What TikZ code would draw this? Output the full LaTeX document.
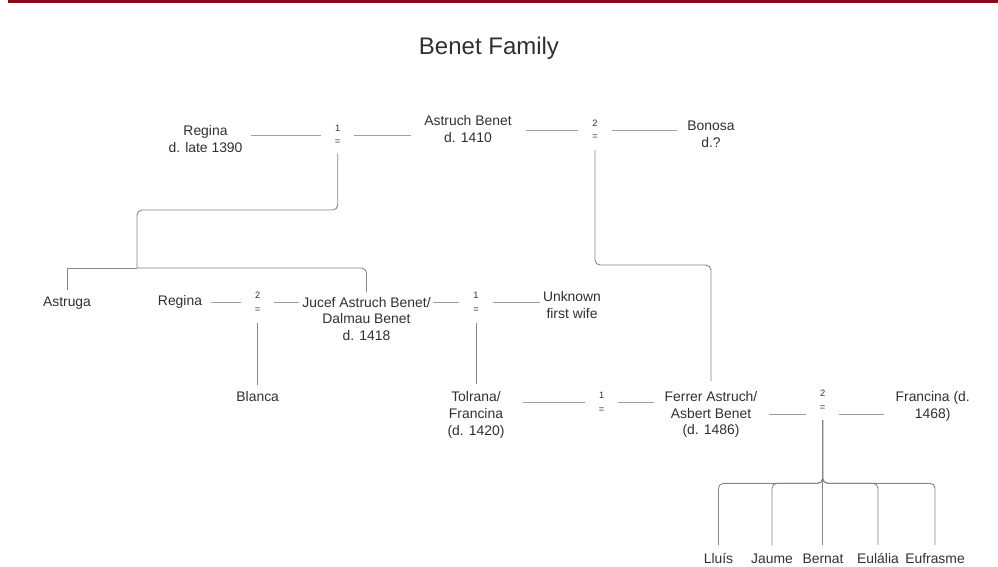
\documentclass[tikz,border=0pt]{standalone}
\usepackage{fontspec}
\setmainfont{Liberation Sans}
\definecolor{tx}{HTML}{303030}
\definecolor{ln}{HTML}{858585}
\definecolor{lnl}{HTML}{A0A0A0}
\definecolor{topred}{HTML}{8B0A1E}
\begin{document}
\begin{tikzpicture}[x=1pt,y=-1pt,
  person/.style={align=center, inner sep=0pt, text=tx, font=\fontsize{13.9}{16.7}\selectfont},
  mar/.style={align=center, inner sep=0pt, minimum width=33pt, text=tx, font=\fontsize{9.3}{13.5}\selectfont},
  titlebox/.style={inner sep=0pt, text=tx, font=\fontsize{24}{28}\selectfont},
  sp/.style={draw=lnl, line width=0.8pt},
  fam/.style={draw=ln, line width=0.9pt, rounded corners=5pt},
  famsharp/.style={draw=ln, line width=0.9pt},
]
\useasboundingbox (0,0) rectangle (998,567);
\draw[topred, line width=3pt] (8,2) -- (998,2);
\node[titlebox] (title) at (489,48) {Benet Family};

% generation 1
\node[person] (reg1) at (205.5,139) {Regina\\d. late 1390};
\node[mar] (m1) at (337.7,135) {1\\=};
\node[person] (astruch) at (468,129) {Astruch Benet\\d. 1410};
\node[mar] (m2) at (595,130) {2\\=};
\node[person] (bonosa) at (711,134.5) {Bonosa\\d.?};

% generation 2
\node[person] (astruga) at (67,302.7) {Astruga};
\node[person] (reg2) at (180,301.7) {Regina};
\node[mar] (m3) at (257.7,302.5) {2\\=};
\node[person] (jucef) at (366.5,319) {Jucef Astruch Benet/\\Dalmau Benet\\d. 1418};
\node[mar] (m4) at (476,302.5) {1\\=};
\node[person] (unknown) at (572,305) {Unknown\\first wife};
\node[person] (blanca) at (257.7,396.7) {Blanca};

% generation 3
\node[person] (tolrana) at (476,415) {Tolrana/\\Francina\\(d. 1420)};
\node[mar] (m5) at (601.7,402.5) {1\\=};
\node[person] (ferrer) at (711,414.5) {Ferrer Astruch/\\Asbert Benet\\(d. 1486)};
\node[mar] (m6) at (822.7,400) {2\\=};
\node[person] (francina) at (932.7,406.7) {Francina (d.\\1468)};

% generation 4
\node[person] (lluis) at (718.5,558.3) {Lluís};
\node[person] (jaume) at (772,558.3) {Jaume};
\node[person] (bernat) at (823,558.3) {Bernat};
\node[person] (eulalia) at (878,558.3) {Eulália};
\node[person] (eufrasme) at (935,558.3) {Eufrasme};

% helper coordinates
\coordinate (j1) at (137,268);
\coordinate (cb) at (823,483.3);
\coordinate (m6l) at ([yshift=-14pt]m6.west);
\coordinate (m6r) at ([yshift=-14pt]m6.east);

% marriage lines
\draw[sp, shorten <=8.4pt] (reg1.east |- m1.west) -- (m1.west);
\draw[sp, shorten >=12.7pt] (m1.east) -- (astruch.west |- m1.east);
\draw[sp, shorten <=13.7pt] (astruch.east |- m2.west) -- (m2.west);
\draw[sp, shorten >=10.6pt] (m2.east) -- (bonosa.west |- m2.east);

\draw[sp, shorten <=9pt] (reg2.east |- m3.west) -- (m3.west);
\draw[sp, shorten >=3pt] (m3.east) -- (jucef.west |- m3.east);
\draw[sp, shorten <=2.5pt] (jucef.east |- m4.west) -- (m4.west);
\draw[sp, shorten >=3pt] (m4.east) -- (unknown.west |- m4.east);

\draw[sp, shorten <=18pt] (tolrana.east |- m5.west) -- (m5.west);
\draw[sp, shorten >=10.4pt] (m5.east) -- (ferrer.west |- m5.east);
\draw[sp, shorten <=11.4pt] (ferrer.east |- m6l) -- (m6l);
\draw[sp, shorten >=11.6pt] (m6r) -- (francina.west |- m6r);

% descent lines
\draw[fam, shorten <=8.5pt] (m1.south) -- (m1.south |- 0,210) -| (j1);
\draw[famsharp, shorten >=6pt] (j1) -| (astruga.north);
\draw[fam, shorten >=5pt] (j1) -| (jucef.north);

\draw[fam, shorten <=10pt, shorten >=10pt] (m2.south) -- (m2.south |- 0,265) -| (ferrer.north);

\draw[famsharp, shorten <=10pt, shorten >=6.5pt] (m3.south) -- (m3.south |- blanca.north);
\draw[famsharp, shorten <=10.5pt, shorten >=8pt] (m4.south) -- (m4.south |- tolrana.north);

\foreach \c in {lluis,jaume,eulalia,eufrasme}
  \draw[fam, shorten <=10pt, shorten >=8pt] (m6.south) -- (m6.south |- cb) -| (\c.north);
\draw[famsharp, shorten <=10pt, shorten >=8pt] (m6.south) -- (m6.south |- bernat.north);
\end{tikzpicture}
\end{document}
